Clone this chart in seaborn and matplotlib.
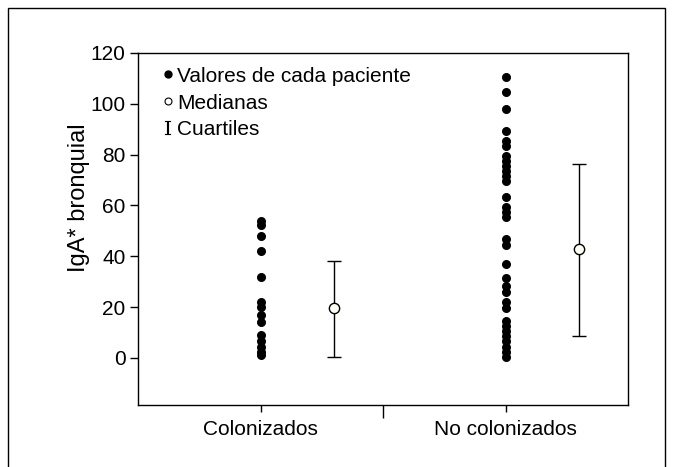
import numpy as np
import pandas as pd
import matplotlib
matplotlib.use("Agg")
import matplotlib.pyplot as plt
import seaborn as sns
from matplotlib.patches import Rectangle
from matplotlib.lines import Line2D

categories = ["Colonizados", "No colonizados"]
colonizados = [54, 52.5, 48, 42, 32, 22, 20, 17, 14, 9, 6.5, 4.5, 2.5, 1]
no_colonizados = [110.5, 104.5, 98, 89.5, 85.5, 83.5, 79.5, 77.5, 75.5, 73.5,
                  71.5, 69.5, 63.5, 59.5, 57.5, 55.5, 47, 44.5, 37, 31.5, 28.5,
                  26, 22, 19.5, 14.5, 12.5, 10.5, 8.5, 6.5, 4.5, 2.5, 0.5]
medians = [19.5, 43]
q1 = [0.5, 8.5]
q3 = [38, 76.5]
y_ticks = [0, 20, 40, 60, 80, 100, 120]
legend_labels = ["Valores de cada paciente", "Medianas", "Cuartiles"]

sns.set_style("white")
plt.rcParams["font.family"] = ["Liberation Sans", "DejaVu Sans"]
plt.rcParams["font.size"] = 15
plt.rcParams["text.color"] = "black"
plt.rcParams["axes.labelcolor"] = "black"
plt.rcParams["xtick.color"] = "black"
plt.rcParams["ytick.color"] = "black"
plt.rcParams["mathtext.fontset"] = "dejavuserif"

df = pd.DataFrame({
    "grupo": [categories[0]] * len(colonizados) + [categories[1]] * len(no_colonizados),
    "valor": colonizados + no_colonizados,
})

fig = plt.figure(figsize=(6.73, 4.67), dpi=100)
ax = fig.add_axes([138 / 673, 1 - 405 / 467, 490 / 673, 352 / 467])

sns.stripplot(data=df, x="grupo", y="valor", order=categories, jitter=False,
              color="black", size=6.5, linewidth=0, ax=ax, zorder=3)

xpos = np.arange(len(categories)) + 0.3
med = np.array(medians)
yerr = np.vstack([med - np.array(q1), np.array(q3) - med])
ax.errorbar(xpos, med, yerr=yerr, fmt="none", ecolor="black",
            elinewidth=1.0, capsize=5, capthick=1.0, zorder=2)
ax.scatter(xpos, med, s=55, facecolor="#fffff4", edgecolor="black",
           linewidth=1.0, zorder=4)

ax.set_xlim(-0.5, 1.5)
ax.set_ylim(-18.5, 120)
ax.set_yticks(y_ticks)
ax.set_yticklabels([str(t) for t in y_ticks], fontsize=15, color="black")
ax.set_xticks([0, 1])
ax.set_xticklabels(categories, fontsize=15, color="black")
ax.set_xticks([0.5], minor=True)
ax.tick_params(axis="x", which="major", direction="out", length=5, width=1,
               color="black", bottom=True, pad=6)
ax.tick_params(axis="x", which="minor", direction="out", length=9, width=1,
               color="black", bottom=True)
ax.tick_params(axis="y", direction="out", length=6, width=1, color="black",
               left=True, pad=3)
ax.set_xlabel("")
ax.set_ylabel("IgA* bronquial", fontsize=17, color="black", labelpad=10)
ax.yaxis.set_label_coords(-0.097, 0.59)
for s in ax.spines.values():
    s.set_visible(True)
    s.set_color("black")
    s.set_linewidth(1.0)

handles = [
    Line2D([], [], linestyle="none", marker="o", markersize=5,
           markerfacecolor="black", markeredgecolor="black"),
    Line2D([], [], linestyle="none", marker="o", markersize=5,
           markerfacecolor="white", markeredgecolor="black", markeredgewidth=0.8),
    Line2D([], [], linestyle="none", marker="$\\mathrm{I}$", markersize=10,
           color="black", markeredgewidth=0.1),
]
leg = ax.legend(handles, legend_labels, loc="upper left", frameon=False,
                fontsize=15, handlelength=0.4, handletextpad=0.25, labelspacing=0.38,
                borderaxespad=0.0, bbox_to_anchor=(0.035, 0.985))
for t in leg.get_texts():
    t.set_color("black")

frame = Rectangle((8 / 673, -0.2), 657 / 673, 1 - 8 / 467 + 0.2,
                  transform=fig.transFigure, fill=False, edgecolor="black",
                  linewidth=1.0, clip_on=False)
fig.add_artist(frame)

fig.savefig("out.png", dpi=100)
